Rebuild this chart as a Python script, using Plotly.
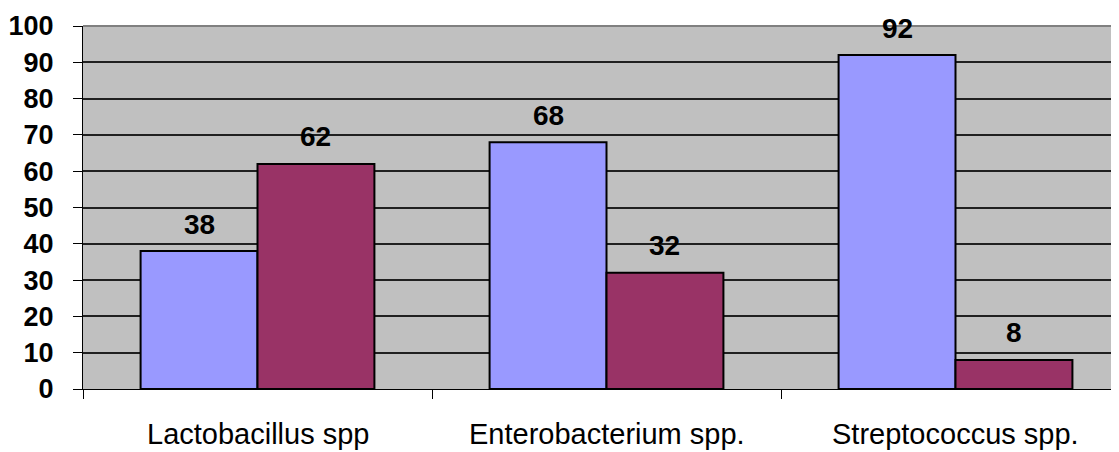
import plotly.graph_objects as go

categories = ["Lactobacillus spp", "Enterobacterium spp.", "Streptococcus spp."]
series_a = [38, 68, 92]
series_b = [62, 32, 8]
y_ticks = [0, 10, 20, 30, 40, 50, 60, 70, 80, 90, 100]

xpos = list(range(len(categories)))
font = "Liberation Sans, Arial, sans-serif"

fig = go.Figure()
fig.add_bar(x=xpos, y=series_a, marker=dict(color="#9999FF", line=dict(color="black", width=2)), name="A")
fig.add_bar(x=xpos, y=series_b, marker=dict(color="#993366", line=dict(color="black", width=2)), name="B")

off = 0.1675
ann = []
for i, (a, b) in enumerate(zip(series_a, series_b)):
    ann.append(dict(x=i - off, y=a, text=f"<b>{a}</b>", showarrow=False, yanchor="middle", yshift=27,
                    font=dict(family=font, size=28, color="black")))
    ann.append(dict(x=i + off, y=b, text=f"<b>{b}</b>", showarrow=False, yanchor="middle", yshift=27,
                    font=dict(family=font, size=28, color="black")))
for i, c in enumerate(categories):
    ann.append(dict(x=i, y=0, text=c, showarrow=False, yanchor="middle", yshift=-45, borderpad=0,
                    font=dict(family=font, size=29, color="black")))

# page body has an 8px margin, so the figure is offset by 8px
fig.update_layout(
    width=1111, height=444,
    margin=dict(l=75, r=0, t=18, b=63),
    paper_bgcolor="white", plot_bgcolor="#C0C0C0",
    barmode="group", bargap=0.33, bargroupgap=0,
    showlegend=False,
    annotations=ann,
    xaxis=dict(range=[-0.5, -0.5 + 1036 / 349], tickvals=[], showgrid=False, zeroline=False,
               showline=True, linecolor="black", linewidth=1,
               minor=dict(tickvals=[-0.5, 0.5, 1.5], ticks="outside", ticklen=9, tickcolor="black", showgrid=False)),
    yaxis=dict(range=[0, 100], tickvals=y_ticks, ticks="outside", ticklen=9, tickcolor="black",
               showgrid=True, gridcolor="#202020", gridwidth=1.5, zeroline=False,
               showline=True, linecolor="black", linewidth=1, ticklabelstandoff=14,
               tickfont=dict(family=font, size=27, color="black", weight="bold")),
    shapes=[dict(type="line", xref="paper", yref="paper", x0=0, x1=1, y0=1, y1=1,
                 line=dict(color="#808080", width=2))],
)

fig.write_html("out.html")
